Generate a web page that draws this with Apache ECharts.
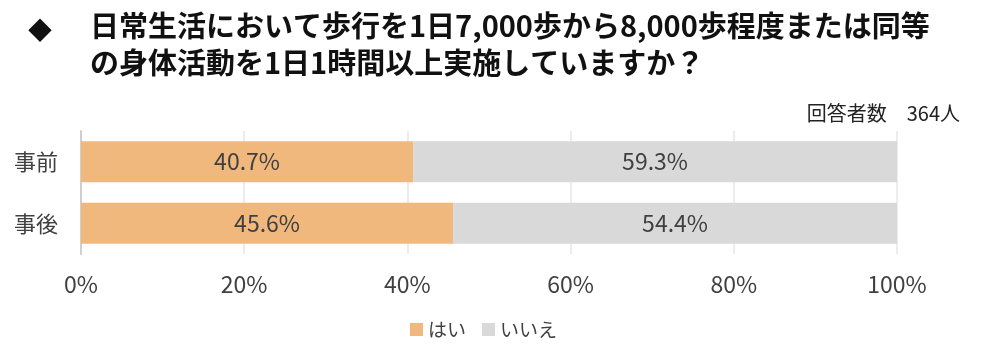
<!DOCTYPE html>
<html><head><meta charset="utf-8">
<script src="https://cdn.jsdelivr.net/npm/echarts@6/dist/echarts.min.js"></script>
<style>html,body{margin:0;padding:0;background:#fff}#c{width:1000px;height:362px}</style>
</head><body><div id="c"></div>
<script>
const categories = ['事前', '事後'];
const yesValues = [40.7, 45.6];
const noValues = [59.3, 54.4];
const seriesNames = ['はい', 'いいえ'];
const xTicks = [0, 20, 40, 60, 80, 100];
const titleLines = ['日常生活において歩行を1日7,000歩から8,000歩程度または同等', 'の身体活動を1日1時間以上実施していますか？'];
const noteText = '回答者数\u3000364人';

const FONT = '"Noto Sans CJK JP", "Noto Sans", sans-serif';
const chart = echarts.init(document.getElementById('c'), null, {renderer: 'canvas'});
const labelCfg = {show: true, position: 'inside', formatter: p => p.value.toFixed(1) + '%', color: '#404040', fontSize: 23, fontFamily: FONT};
chart.setOption({
  animation: false,
  grid: {left: 81, right: 103, top: 131, bottom: 108},
  xAxis: {type: 'value', min: 0, max: 100, interval: 20,
    axisLabel: {formatter: v => xTicks.includes(v) ? v + '%' : '', color: '#404040', fontSize: 23, fontFamily: FONT, margin: 19},
    splitLine: {lineStyle: {color: '#e6e6e6', width: 1.5}},
    axisLine: {show: false}, axisTick: {show: false}},
  yAxis: {type: 'category', data: categories, inverse: true,
    axisLabel: {color: '#404040', fontSize: 22, fontFamily: FONT, margin: 23},
    axisLine: {show: true, lineStyle: {color: '#cfcfcf', width: 2}}, axisTick: {show: false}},
  legend: {bottom: 18, left: 405, itemWidth: 13, itemHeight: 13, itemGap: 16, icon: 'rect',
    textStyle: {color: '#404040', fontSize: 19, fontFamily: FONT}, data: seriesNames},
  series: [
    {name: seriesNames[0], type: 'bar', stack: 's', data: yesValues, barWidth: '67%', itemStyle: {color: '#F1B87E'}, label: labelCfg},
    {name: seriesNames[1], type: 'bar', stack: 's', data: noValues, barWidth: '67%', itemStyle: {color: '#D9D9D9'}, label: labelCfg}
  ],
  graphic: [
    {type: 'text', left: 28, top: 18, style: {text: '◆', fontSize: 24, fontFamily: FONT, fill: '#111'}},
    {type: 'text', left: 90, top: 11, style: {text: titleLines[0], fontSize: 29, fontWeight: 'bold', fontFamily: FONT, fill: '#111'}},
    {type: 'text', left: 90, top: 48, style: {text: titleLines[1], fontSize: 29, fontWeight: 'bold', fontFamily: FONT, fill: '#111'}},
    {type: 'text', right: 40, top: 103, style: {text: noteText, fontSize: 20, fontFamily: FONT, fill: '#222'}}
  ]
});
</script></body></html>
